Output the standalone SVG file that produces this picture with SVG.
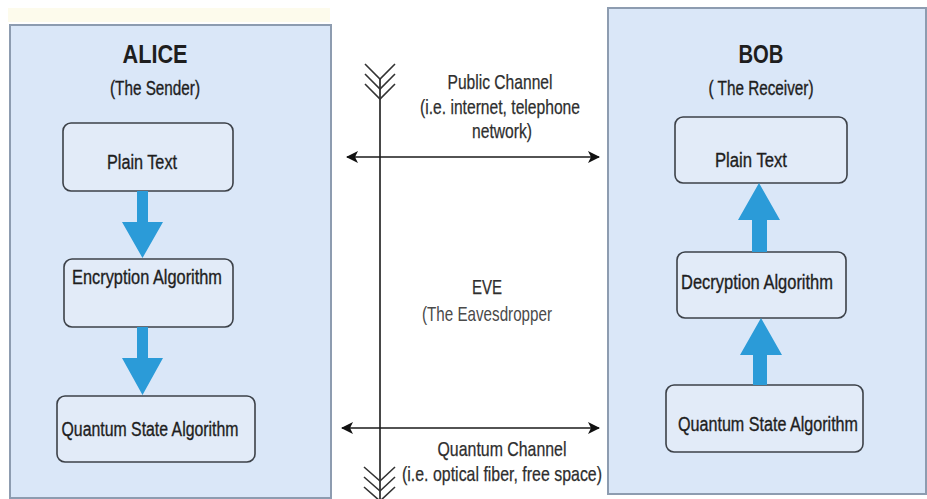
<svg xmlns="http://www.w3.org/2000/svg" width="927" height="499" viewBox="0 0 927 499">
  <defs>
    <marker id="head" viewBox="0 0 12 12" refX="11" refY="6" markerWidth="12" markerHeight="12" markerUnits="userSpaceOnUse" orient="auto-start-reverse">
      <path d="M0,0 L12,6 L0,12 L3,6 Z" fill="#111"/>
    </marker>
  </defs>
  <style>
    .panel { fill: #dae7f8; stroke: #8d9cb0; stroke-width: 2; }
    .box { fill: #e2ebf8; stroke: #3c4148; stroke-width: 1.6; }
    .flow { fill: #2b9bd8; }
    .t { font-family: "Liberation Sans", Arial, sans-serif; fill: #1e1e1e; text-anchor: middle; stroke: #1e1e1e; stroke-width: 0.35; }
    .title { font-size: 26px; font-weight: bold; stroke-width: 0; }
    .sub { font-size: 20px; }
    .lbl { font-size: 20px; }
    .mid { font-family: "Liberation Sans", Arial, sans-serif; fill: #2e2e2e; text-anchor: middle; font-size: 21px; stroke: #2e2e2e; stroke-width: 0.25; }
    .wire { stroke: #1a1a1a; stroke-width: 1.6; fill: none; }
    .fletch { stroke: #333; stroke-width: 1.6; fill: none; }
  </style>

  <rect width="927" height="499" fill="#ffffff"/>
  <rect x="8" y="8" width="322" height="14" fill="#fdfbec"/>

  <!-- Sender -->
  <g id="alice">
    <rect class="panel" x="10" y="25" width="321" height="473"/>
    <text class="t title" x="155" y="63" textLength="65" lengthAdjust="spacingAndGlyphs">ALICE</text>
    <text class="t sub" x="155" y="95" textLength="90" lengthAdjust="spacingAndGlyphs">(The Sender)</text>
  </g>
  <g id="alice-plain">
    <rect class="box" x="63" y="123" width="170" height="68" rx="8"/>
    <text class="t lbl" x="142" y="169" textLength="70" lengthAdjust="spacingAndGlyphs">Plain Text</text>
  </g>
  <g id="alice-encrypt">
    <rect class="box" x="64" y="259" width="169" height="68" rx="8"/>
    <text class="t lbl" x="147" y="284" textLength="150" lengthAdjust="spacingAndGlyphs">Encryption Algorithm</text>
  </g>
  <g id="alice-quantum">
    <rect class="box" x="57" y="396" width="198" height="66" rx="8"/>
    <text class="t lbl" x="150" y="436" textLength="177" lengthAdjust="spacingAndGlyphs">Quantum State Algorithm</text>
  </g>

  <!-- Receiver -->
  <g id="bob">
    <rect class="panel" x="608" y="8" width="318" height="486"/>
    <text class="t title" x="761" y="63" textLength="45" lengthAdjust="spacingAndGlyphs">BOB</text>
    <text class="t sub" x="761" y="95" textLength="105" lengthAdjust="spacingAndGlyphs">( The Receiver)</text>
  </g>
  <g id="bob-plain">
    <rect class="box" x="675" y="117" width="172" height="66" rx="8"/>
    <text class="t lbl" x="751" y="167" textLength="72" lengthAdjust="spacingAndGlyphs">Plain Text</text>
  </g>
  <g id="bob-decrypt">
    <rect class="box" x="677" y="252" width="169" height="66" rx="8"/>
    <text class="t lbl" x="757" y="289" textLength="152" lengthAdjust="spacingAndGlyphs">Decryption Algorithm</text>
  </g>
  <g id="bob-quantum">
    <rect class="box" x="666" y="385" width="197" height="67" rx="8"/>
    <text class="t lbl" x="768" y="431" textLength="180" lengthAdjust="spacingAndGlyphs">Quantum State Algorithm</text>
  </g>

  <!-- Eavesdropper -->
  <g id="eve">
    <text class="mid" x="487" y="294" textLength="30" lengthAdjust="spacingAndGlyphs">EVE</text>
    <text class="mid" x="487" y="321" textLength="130" lengthAdjust="spacingAndGlyphs" style="fill:#4a4a4a;stroke-width:0">(The Eavesdropper</text>
  </g>

  <g id="connectors">
    <!-- processing flow inside each party -->
    <path class="flow" d="M137,191 H148 V222 H163 L142.5,258 L122,222 H137 Z"/>
    <path class="flow" d="M137,327 H148 V358 H163 L142.5,395 L122,358 H137 Z"/>
    <path class="flow" d="M752,252 H767 V220 H780 L759,183 L738,220 H752 Z"/>
    <path class="flow" d="M753,385 H767 V355 H782 L761,318 L740,355 H753 Z"/>

    <!-- eavesdropper tap line with fletching -->
    <line class="wire" x1="380" y1="79" x2="380" y2="499"/>
    <path class="fletch" d="M365,64 L380,79 L395,64 M365,74 L380,89 L395,74 M365,84 L380,99 L395,84"/>
    <path class="fletch" d="M364,467 L380,481 L395,467 M364,477 L380,491 L395,477 M364,487 L380,501 L395,487"/>

    <!-- channels -->
    <line class="wire" x1="347" y1="157" x2="599" y2="157" marker-start="url(#head)" marker-end="url(#head)"/>
    <text class="mid" x="500" y="89" textLength="105" lengthAdjust="spacingAndGlyphs">Public Channel</text>
    <text class="mid" x="500" y="114" textLength="160" lengthAdjust="spacingAndGlyphs">(i.e. internet, telephone</text>
    <text class="mid" x="502" y="138" textLength="60" lengthAdjust="spacingAndGlyphs">network)</text>

    <line class="wire" x1="342" y1="428" x2="599" y2="428" marker-start="url(#head)" marker-end="url(#head)"/>
    <text class="mid" x="502" y="456" textLength="129" lengthAdjust="spacingAndGlyphs">Quantum Channel</text>
    <text class="mid" x="502" y="481" textLength="200" lengthAdjust="spacingAndGlyphs">(i.e. optical fiber, free space)</text>
  </g>
</svg>
